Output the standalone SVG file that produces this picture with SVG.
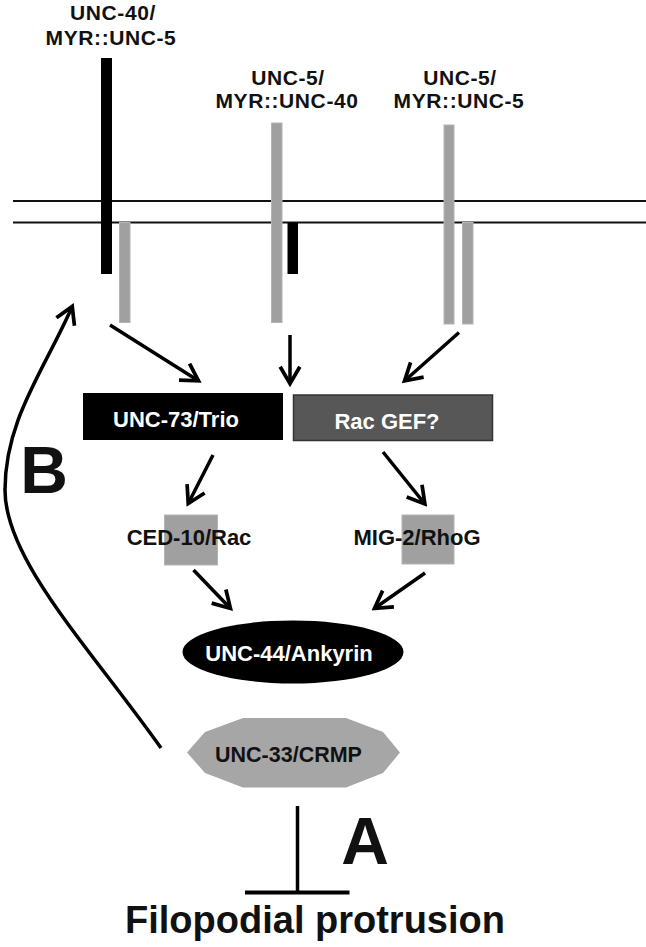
<svg xmlns="http://www.w3.org/2000/svg" width="646" height="947" viewBox="0 0 646 947">
<defs>
<marker id="arr" markerUnits="userSpaceOnUse" markerWidth="24" markerHeight="24" viewBox="0 0 20 20" refX="16.5" refY="10" orient="auto">
<path d="M3,1.8 L17,10 L3,18.2" fill="none" stroke="#000" stroke-width="3.1" stroke-linejoin="miter"/>
</marker>
</defs>
<style>
text{font-family:"Liberation Sans",Arial,sans-serif;font-weight:bold;text-anchor:middle}
.lbl{font-size:21px;letter-spacing:0.6px;fill:#111}
.node{font-size:22px}
.wt{fill:#fff}
.bk{fill:#111}
.grey{fill:#a0a0a0;stroke:#b4b4b4;stroke-width:1}
.conn{fill:none;stroke:#000;stroke-width:3.5}
.mem{stroke:#111;stroke-width:2}
</style>
<rect width="646" height="947" fill="#fff"/>

<g id="membrane">
<line class="mem" x1="13" y1="201" x2="646" y2="201"/>
<line class="mem" x1="13" y1="222.5" x2="646" y2="222.5"/>
</g>

<g id="receptor1">
<text class="lbl" x="113" y="20">UNC-40/</text>
<text class="lbl" x="111" y="45">MYR::UNC-5</text>
<rect x="101" y="58" width="11" height="216" fill="#000"/>
<rect x="119.5" y="222.5" width="10.5" height="100" class="grey"/>
</g>

<g id="receptor2">
<text class="lbl" x="288" y="85">UNC-5/</text>
<text class="lbl" x="287" y="107.5">MYR::UNC-40</text>
<rect x="271.5" y="123" width="10.5" height="199.5" class="grey"/>
<rect x="287.5" y="222.5" width="10.5" height="51.5" fill="#000"/>
</g>

<g id="receptor3">
<text class="lbl" x="460" y="85">UNC-5/</text>
<text class="lbl" x="459" y="107.5">MYR::UNC-5</text>
<rect x="444" y="125" width="10" height="199" class="grey"/>
<rect x="462.5" y="222.5" width="10.5" height="101.5" class="grey"/>
</g>

<g id="unc73">
<rect x="83" y="393" width="200" height="47" fill="#000"/>
<text class="node wt" x="176" y="427">UNC-73/Trio</text>
</g>

<g id="racgef">
<rect x="293.5" y="395" width="199" height="45.5" fill="#575757" stroke="#333" stroke-width="1.5"/>
<text class="node wt" x="387" y="428.5">Rac GEF?</text>
</g>

<g id="ced10">
<rect x="164.5" y="515" width="53" height="50" class="grey"/>
<text class="node bk" x="189" y="545">CED-10/Rac</text>
</g>

<g id="mig2">
<rect x="402" y="515" width="52" height="49" class="grey"/>
<text class="node bk" x="417" y="545">MIG-2/RhoG</text>
</g>

<g id="unc44">
<ellipse cx="293" cy="652" rx="110.5" ry="31.5" fill="#000"/>
<text class="node wt" x="289" y="661">UNC-44/Ankyrin</text>
</g>

<g id="unc33">
<polygon points="187,752.5 205,732 243,718 346,718 383,732 400,752.5 383,773 346,787.5 243,787.5 205,773" fill="#a6a6a6"/>
<text class="bk" x="288.5" y="761.5" style="font-size:21.5px">UNC-33/CRMP</text>
</g>

<g id="filopodia">
<text x="315" y="933" style="font-size:38px;fill:#111">Filopodial protrusion</text>
</g>

<g id="labels">
<text x="44" y="493" style="font-size:66px;fill:#111">B</text>
<text x="365" y="864" style="font-size:66px;fill:#111">A</text>
</g>

<g id="connectors">
<line class="conn" x1="110" y1="325" x2="198" y2="380.5" marker-end="url(#arr)"/>
<line class="conn" x1="290" y1="335" x2="290" y2="383" marker-end="url(#arr)"/>
<line class="conn" x1="459" y1="332.5" x2="405" y2="380.5" marker-end="url(#arr)"/>
<line class="conn" x1="213" y1="455" x2="188.5" y2="503" marker-end="url(#arr)"/>
<line class="conn" x1="383" y1="452" x2="424.5" y2="503.5" marker-end="url(#arr)"/>
<line class="conn" x1="193.5" y1="570" x2="230" y2="608" marker-end="url(#arr)"/>
<line class="conn" x1="425" y1="573" x2="375" y2="608" marker-end="url(#arr)"/>
<path class="conn" d="M161,748 C90,648 5,560 5,490 C5,420 43.5,371.5 72,307" marker-end="url(#arr)"/>
<line class="conn" x1="297.5" y1="806" x2="297.5" y2="891"/>
<line x1="245" y1="892.5" x2="349.5" y2="892.5" stroke="#000" stroke-width="4"/>
</g>
</svg>
